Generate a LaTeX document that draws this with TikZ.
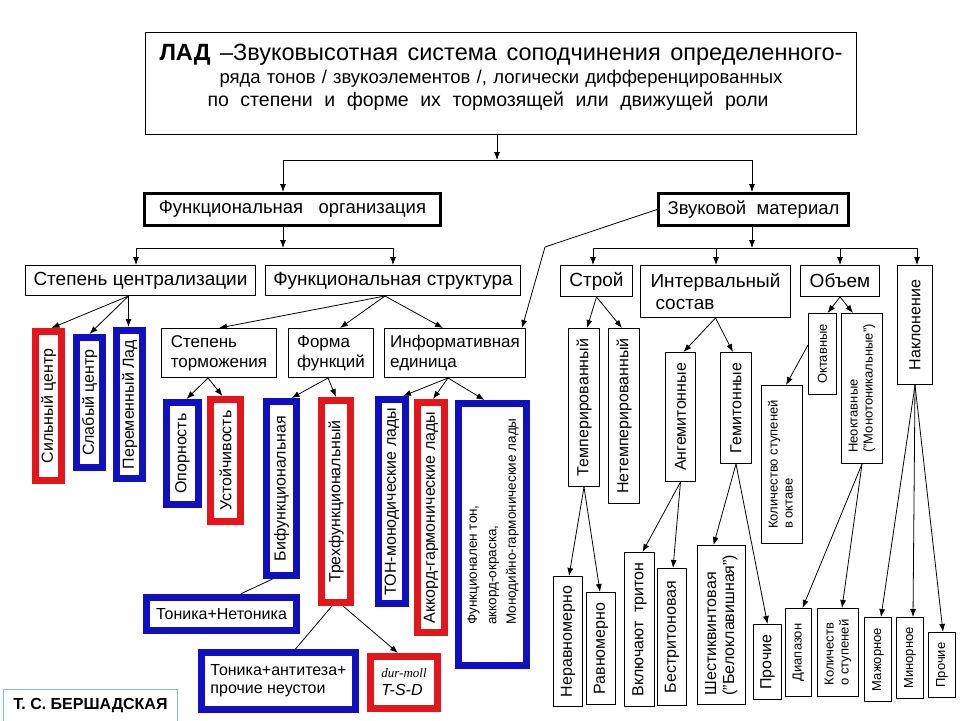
\documentclass[tikz,border=0pt]{standalone}
\usepackage{fontspec}
\setmainfont{Liberation Sans}
\newfontfamily\serifit{Liberation Serif}
\usetikzlibrary{arrows.meta}
\definecolor{cred}{RGB}{228,22,28}
\definecolor{cblue}{RGB}{16,16,192}
\definecolor{cteal}{RGB}{140,185,195}
\newcommand{\myfs}[2]{\fontsize{#1}{#2}\selectfont}
\newcommand{\Vt}[1]{\rotatebox{90}{#1}}
\newcommand{\VVt}[2]{\rotatebox{90}{\begin{tabular}{@{}l@{}}#1\\#2\end{tabular}}}
\newcommand{\Bx}[7]{\node[#2, minimum width={(#5)-(#3)-\pgflinewidth}, minimum height={(#6)-(#4)-\pgflinewidth}] (#1) at ({((#3)+(#5))/2},{((#4)+(#6))/2}) {#7};}
\begin{document}
\begin{tikzpicture}[x=1pt,y=-1pt,
  bx/.style={inner sep=0pt, fill=white, align=center, font=\myfs{16}{18}},
  tbx/.style={bx, draw=black, line width=0.9pt},
  boldbx/.style={bx, draw=black, line width=3pt, font=\myfs{18.5}{20}},
  redbx/.style={bx, draw=cred, line width=7pt},
  bluebx/.style={bx, draw=cblue, line width=7pt},
  authbx/.style={bx, draw=cteal, line width=1pt, font=\bfseries\myfs{16}{18}},
  small/.style={font=\myfs{13}{15}},
  mid/.style={font=\myfs{17}{20}},
  big/.style={font=\myfs{19}{22}},
  ln/.style={line width=0.8pt},
  arr/.style={ln, -{Latex[length=8pt,width=6pt]}},
  hd/.style={inner sep=0pt}
]
\useasboundingbox[fill=white] (0,0) rectangle (960,720);

% ---- header
\Bx{top}{tbx}{145}{32}{857}{135}{}
\node[hd, font=\myfs{23.5}{25}] (t1) at (501,55) {\makebox[683pt][s]{\textbf{ЛАД} –Звуковысотная система соподчинения определенного-}};
\node[hd, font=\myfs{18.5}{20}] (t2) at (501,79) {\makebox[563pt][s]{ряда тонов / звукоэлементов /, логически дифференцированных}};
\node[hd, font=\myfs{19.5}{21}] (t3) at (488,101) {\makebox[561pt][s]{по степени и форме их тормозящей или движущей роли}};

% ---- level 1
\Bx{fo}{boldbx}{143}{192}{442}{227}{Функциональная\ \ \ организация}
\Bx{zm}{boldbx}{657}{192}{850}{227}{Звуковой\ \ материал}

% ---- level 2
\Bx{stc}{tbx,big}{25}{265}{256}{296}{Степень централизации}
\Bx{fs}{tbx,big}{265}{265}{521}{296}{Функциональная структура}
\Bx{stroy}{tbx,big}{560}{265}{633}{297}{Строй}
\Bx{int}{tbx,big,align=left}{640}{265}{791}{318}{Интервальный\\\hspace*{5pt}состав}
\Bx{obem}{tbx,big}{800}{265}{880}{297}{Объем}
\Bx{nakl}{tbx}{897}{265}{933}{385}{\Vt{Наклонение}}

% ---- left group
\Bx{silny}{redbx}{32}{328}{65}{484}{\Vt{Сильный центр}}
\Bx{slaby}{bluebx}{73}{334}{106}{471}{\Vt{Слабый центр}}
\Bx{perem}{bluebx}{113}{327}{146}{482}{\Vt{Переменный Лад}}
\Bx{stt}{tbx,mid,align=left}{161}{328}{277}{378}{Степень\\торможения}
\Bx{ff}{tbx,mid,align=left}{288}{328}{374}{378}{Форма\\функций}
\Bx{ie}{tbx,mid,align=left}{384}{328}{526}{378}{Информативная\\единица}
\Bx{opor}{bluebx}{163}{399}{202}{508}{\Vt{Опорность}}
\Bx{ust}{redbx}{207}{396}{244}{525}{\Vt{Устойчивость}}
\Bx{bif}{bluebx}{263}{398}{300}{579}{\Vt{Бифункциональная}}
\Bx{tri}{redbx}{318}{397}{354}{606}{\Vt{Трехфункциональный}}
\Bx{ton}{bluebx}{375}{396}{409}{607}{\Vt{ТОН-монодические лады}}
\Bx{akk}{redbx}{414}{399}{448}{636}{\Vt{Аккорд-гармонические лады}}
\Bx{fton}{bluebx,font=\myfs{13.5}{19.5}}{455}{400}{530}{669}{\rotatebox{90}{\begin{tabular}{@{\hspace{26pt}}l@{}}Функционален тон,\\аккорд-окраска,\\Монодийно-гармонические лады\end{tabular}}}
\Bx{tnt}{bluebx}{143}{594}{300}{634}{Тоника+Нетоника}
\Bx{tant}{bluebx,align=left}{198}{649}{359}{713}{Тоника+антитеза+\\прочие неустои}
\Bx{dur}{redbx,align=left}{367}{653}{441}{712}{{\serifit\itshape\myfs{13}{20}dur-moll}\\{\itshape\myfs{16}{19}T-S-D}}
\Bx{auth}{authbx}{3}{689}{178}{722}{Т. С. БЕРШАДСКАЯ}

% ---- right group
\Bx{temp}{tbx}{568}{328}{600}{487}{\Vt{Темперированный}}
\Bx{netemp}{tbx}{608}{328}{640}{504}{\Vt{Нетемперированный}}
\Bx{nerav}{tbx}{553}{576}{583}{707}{\Vt{Неравномерно}}
\Bx{rav}{tbx}{586}{592}{616}{705}{\Vt{Равномерно}}
\Bx{angem}{tbx}{665}{352}{696}{482}{\Vt{Ангемитонные}}
\Bx{gem}{tbx}{720}{352}{752}{464}{\Vt{Гемитонные}}
\Bx{vkl}{tbx}{624}{552}{655}{707}{\Vt{Включают\ \ тритон}}
\Bx{bestr}{tbx}{657}{568}{687}{706}{\Vt{Бестритоновая}}
\Bx{shest}{tbx}{697}{545}{746}{705}{\VVt{Шестиквинтовая}{("Белоклавишная")}}
\Bx{proch1}{tbx}{753}{624}{782}{700}{\Vt{Прочие}}
\Bx{okt}{tbx,small}{808}{313}{837}{395}{\Vt{Октавные}}
\Bx{neokt}{tbx,small}{841}{313}{883}{464}{\VVt{Неоктавные}{("Монотоникальные")}}
\Bx{kolokt}{tbx,small}{761}{385}{803}{544}{\VVt{Количество ступеней}{в октаве}}
\Bx{diap}{tbx,small}{785}{608}{812}{697}{\Vt{Диапазон}}
\Bx{kolst}{tbx,small}{817}{608}{859}{697}{\VVt{Количеств}{о ступеней}}
\Bx{maj}{tbx,small}{864}{617}{892}{702}{\Vt{Мажорное}}
\Bx{minr}{tbx,small}{896}{617}{924}{699}{\Vt{Минорное}}
\Bx{proch2}{tbx,small}{928}{632}{956}{698}{\Vt{Прочие}}

% ---- top connectors
\coordinate (b0) at (497,160);
\coordinate (c1) at (283,160);
\coordinate (c2) at (752,160);
\draw[arr] (top.south -| b0) -- (b0);
\draw[ln] (c1) -- (c2);
\draw[arr] (c1) -- (c1 |- fo.north);
\draw[arr] (c2) -- (c2 |- zm.north);

\coordinate (c3) at (283,248);
\coordinate (c4) at (136,248);
\coordinate (c5) at (393,248);
\draw[arr] (fo.south -| c3) -- (c3);
\draw[ln] (c4) -- (c5);
\draw[arr] (c4) -- (c4 |- stc.north);
\draw[arr] (c5) -- (c5 |- fs.north);

\coordinate (c6) at (752,248);
\coordinate (c7) at (593,248);
\coordinate (c8) at (917,248);
\coordinate (c9) at (716,248);
\coordinate (c10) at (840,248);
\draw[arr] (zm.south -| c6) -- (c6);
\draw[ln] (c7) -- (c8);
\draw[arr] (c7) -- (c7 |- stroy.north);
\draw[arr] (c9) -- (c9 |- int.north);
\draw[arr] (c10) -- (c10 |- obem.north);
\draw[arr] (c8) -- (c8 |- nakl.north);

\coordinate (bend) at (545,247);
\draw[arr] (zm.west) -- (bend) -- ([xshift=-4]ie.north east);

% ---- left arrows
\draw[arr] ([xshift=-12]stc.south) -- ([xshift=3]silny.north);
\draw[arr] ([xshift=-12]stc.south) -- (slaby.north);
\draw[arr] ([xshift=-12]stc.south) -- ([xshift=-1]perem.north);
\draw[arr] ([xshift=-8]fs.south) -- (stt.north);
\draw[arr] ([xshift=-8]fs.south) -- ([xshift=9]ff.north);
\draw[arr] ([xshift=-8]fs.south) -- ([xshift=-12]ie.north);
\draw[arr] ([xshift=-11]stt.south) -- ([xshift=4]opor.north);
\draw[arr] ([xshift=-11]stt.south) -- ([xshift=-3]ust.north);
\draw[arr] ([xshift=-3]ff.south) -- ([xshift=10]bif.north);
\draw[arr] ([xshift=-3]ff.south) -- (tri.north);
\draw[arr] ([xshift=-7]ie.south) -- ([xshift=11]ton.north);
\draw[arr] ([xshift=-7]ie.south) -- ([xshift=2]akk.north);
\draw[arr] ([xshift=-7]ie.south) -- ([xshift=-8]fton.north);
\draw[ln] ([xshift=-9]bif.south) -- ([xshift=19]tnt.north);
\draw[ln] ([xshift=-4]tri.south) -- ([xshift=17]tant.north);
\draw[arr] ([xshift=7]tri.south) -- ([xshift=-6]dur.north);

% ---- right arrows
\draw[arr] (stroy.south) -- ([xshift=3]temp.north);
\draw[arr] (stroy.south) -- ([xshift=-2]netemp.north);
\draw[arr] (temp.south) -- ([xshift=1]nerav.north);
\draw[arr] (temp.south) -- ([xshift=-1]rav.north);
\draw[arr] (int.south) -- ([xshift=3]angem.north);
\draw[arr] (int.south) -- ([xshift=-3]gem.north);
\draw[arr] (angem.south) -- ([xshift=3]vkl.north);
\draw[arr] (angem.south) -- ([xshift=1]bestr.north);
\draw[arr] (gem.south) -- ([xshift=-8]shest.north);
\draw[arr] (gem.south) -- (proch1.north);
\draw[arr] (obem.south) -- ([xshift=5]okt.north);
\draw[arr] (obem.south) -- ([xshift=-9]neokt.north);
\draw[arr] ([yshift=9]okt.west) -- ([xshift=4]kolokt.north);
\draw[arr] (neokt.south) -- ([xshift=4]diap.north);
\draw[arr] (neokt.south) -- ([xshift=4]kolst.north);
\draw[arr] (nakl.south) -- ([xshift=3]maj.north);
\draw[arr] (nakl.south) -- ([xshift=3]minr.north);
\draw[arr] (nakl.south) -- ([xshift=1]proch2.north);
\end{tikzpicture}
\end{document}
